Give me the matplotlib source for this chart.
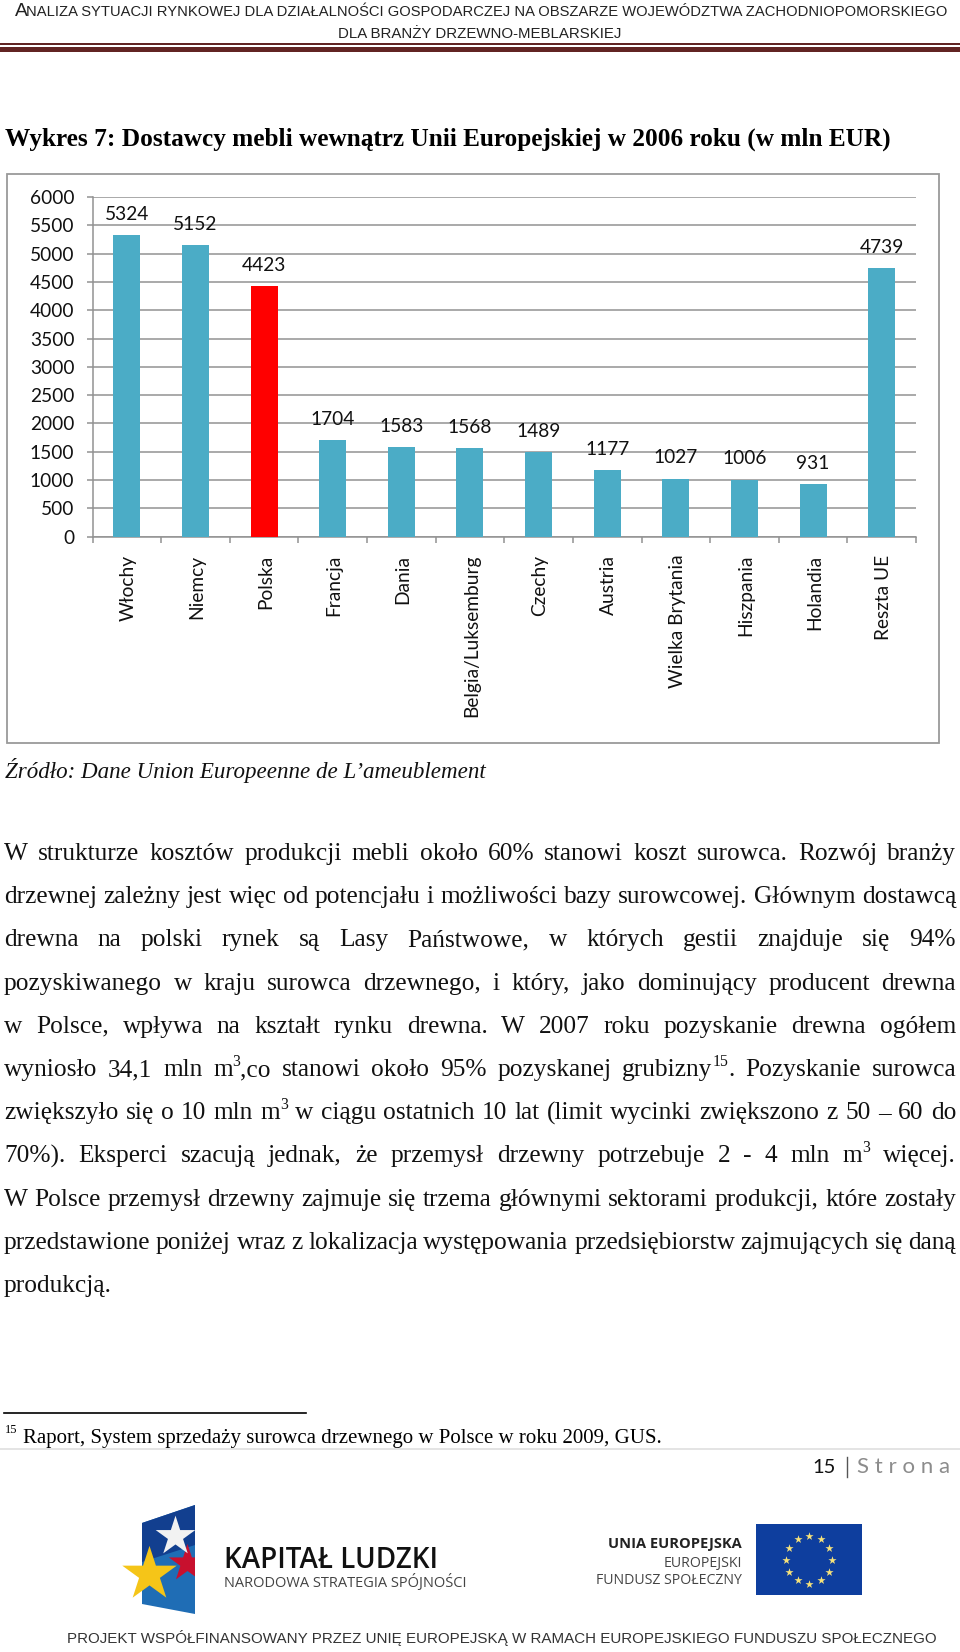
import numpy as np
import matplotlib
matplotlib.use("Agg")
import matplotlib.pyplot as plt
from matplotlib.patches import Polygon, Rectangle

categories = ["Włochy", "Niemcy", "Polska", "Francja", "Dania", "Belgia/Luksemburg", "Czechy",
              "Austria", "Wielka Brytania", "Hiszpania", "Holandia", "Reszta UE"]
values = [5324, 5152, 4423, 1704, 1583, 1568, 1489, 1177, 1027, 1006, 931, 4739]
bar_colors = ["#4BACC6", "#4BACC6", "#FF0000"] + ["#4BACC6"] * 9
yticks = list(range(0, 6001, 500))

header_2 = "DLA BRANŻY DRZEWNO-MEBLARSKIEJ"
title = "Wykres 7: Dostawcy mebli wewnątrz Unii Europejskiej w 2006 roku (w mln EUR)"
source = "Źródło: Dane Union Europeenne de L’ameublement"
body = [
    "W strukturze kosztów produkcji mebli około 60% stanowi koszt surowca. Rozwój branży",
    "drzewnej zależny jest więc od potencjału i możliwości bazy surowcowej. Głównym dostawcą",
    "drewna na polski rynek są Lasy Państwowe, w których gestii znajduje się 94%",
    "pozyskiwanego w kraju surowca drzewnego, i który, jako dominujący producent drewna",
    "w Polsce, wpływa na kształt rynku drewna. W 2007 roku pozyskanie drewna ogółem",
    "wyniosło 34,1 mln m^3^,co stanowi około 95% pozyskanej grubizny^15^. Pozyskanie surowca",
    "zwiększyło się o 10 mln m^3^ w ciągu ostatnich 10 lat (limit wycinki zwiększono z 50 – 60 do",
    "70%). Eksperci szacują jednak, że przemysł drzewny potrzebuje 2 - 4 mln m^3^ więcej.",
    "W Polsce przemysł drzewny zajmuje się trzema głównymi sektorami produkcji, które zostały",
    "przedstawione poniżej wraz z lokalizacja występowania przedsiębiorstw zajmujących się daną",
    "produkcją.",
]
footnote = "Raport, System sprzedaży surowca drzewnego w Polsce w roku 2009, GUS."

W, H = 960, 1652
fig = plt.figure(figsize=(W / 100, H / 100), dpi=100, facecolor="white")
pg = fig.add_axes([0, 0, 1, 1])
pg.set_xlim(0, W)
pg.set_ylim(H, 0)
pg.axis("off")
renderer = fig.canvas.get_renderer()
SERIF, SANS, CHART = "Liberation Serif", "Liberation Sans", "Lato"


def width(s, **kw):
    t = pg.text(0, 0, s, **kw)
    w = t.get_window_extent(renderer).width
    t.remove()
    return w


def fit(s, x0, x1, y, **kw):
    """Place text so that it spans x0..x1 by choosing its font size."""
    base = 14
    w = width(s, fontsize=base, **kw)
    return pg.text(x0, y, s, fontsize=base * (x1 - x0) / w, va="baseline", **kw)


# ---------- header ----------
hs = 11.35
pg.text(15, 16, "A", family=SANS, fontsize=hs * 1.22, color="#222222", va="baseline")
fit("NALIZA SYTUACJI RYNKOWEJ DLA DZIAŁALNOŚCI GOSPODARCZEJ NA OBSZARZE WOJEWÓDZTWA ZACHODNIOPOMORSKIEGO",
    26, 945, 16, family=SANS, color="#222222")
pg.text(480, 37.5, header_2, family=SANS, fontsize=10.8, color="#222222", ha="center", va="baseline")
pg.add_patch(Rectangle((0, 43), W, 1.6, fc="#622423", ec="none"))
pg.add_patch(Rectangle((0, 46.5), W, 5.5, fc="#622423", ec="none"))

fit(title, 5, 893, 146, family=SERIF, weight="bold", color="black")

# ---------- chart ----------
pg.add_patch(Rectangle((7, 174), 932, 569, fc="white", ec="#9A9A9A", lw=1.3))
ax = fig.add_axes([92.5 / W, 1 - 536.7 / H, 823.5 / W, (536.7 - 197) / H])
x = np.arange(len(categories))
bars = ax.bar(x, values, width=27 / 68.6, color=bar_colors, zorder=3)
ax.set_xlim(-0.5, len(categories) - 0.5)
ax.set_ylim(0, 6000)
ax.set_yticks(yticks)
ax.set_yticklabels([str(v) for v in yticks], family=CHART, fontsize=13.8, color="#111111")
ax.set_xticks(np.arange(len(categories) + 1) - 0.5, minor=False)
ax.set_xticklabels([""] * (len(categories) + 1))
ax.grid(axis="y", color="#929292", lw=1.1, zorder=0)
ax.set_axisbelow(True)
for s in ("top", "right"):
    ax.spines[s].set_visible(False)
for s in ("left", "bottom"):
    ax.spines[s].set_color("#929292")
    ax.spines[s].set_linewidth(1.1)
ax.tick_params(axis="both", color="#929292", width=1.1, length=4.5, pad=8.5)
for xi, v, cat in zip(x, values, categories):
    ax.annotate(str(v), (xi, v), xytext=(0, 15), textcoords="offset points", ha="center", va="center",
                family=CHART, fontsize=13.8, color="#111111")
    ax.annotate(cat, (xi, 0), xytext=(1, -13), textcoords="offset points", ha="center", va="top",
                rotation=90, family=CHART, fontsize=13.8, color="#111111", annotation_clip=False)

fit(source, 5, 488, 778, family=SERIF, style="italic", color="#111111")

# ---------- justified body ----------
FS = 18.3
L, R = 4, 956
SUP_SCALE = 0.62


def word_runs(word):
    parts = word.split("^")
    return [(p, i % 2 == 1) for i, p in enumerate(parts) if p]


def run_w(text, sup):
    return width(text, family=SERIF, fontsize=FS * SUP_SCALE if sup else FS)


for i, line in enumerate(body):
    y = 860 + i * 43.2
    words = [word_runs(w) for w in line.split(" ")]
    ws = [sum(run_w(t, s) for t, s in w) for w in words]
    last = i == len(body) - 1
    gap = 5 if last else (R - L - sum(ws)) / (len(words) - 1)
    cx = L
    for w, wd in zip(words, ws):
        rx = cx
        for t, s in w:
            pg.text(rx, y - 10 if s else y, t, family=SERIF, fontsize=FS * SUP_SCALE if s else FS,
                    va="baseline", color="#111111")
            rx += run_w(t, s)
        cx += wd + gap

# ---------- footnote & page number ----------
pg.plot([4, 306], [1413, 1413], color="black", lw=1.2)
pg.text(5, 1433, "15", family=SERIF, fontsize=9, va="baseline")
fit(footnote, 23, 663, 1443, family=SERIF, color="black")
pg.add_patch(Rectangle((0, 1448), W, 2, fc="#E4E4E4", ec="none"))
pg.text(812, 1473, "15", family=CHART, fontsize=14.5, va="baseline", color="#111111")
pg.plot([846.5, 846.5], [1457, 1477], color="#555555", lw=1)
fit("S t r o n a", 857, 950, 1473, family=CHART, color="#8C8C8C")

# ---------- logos ----------
pg.add_patch(Polygon([(142, 1523), (195, 1505), (195, 1614), (142, 1604)], fc="#1F6DB5", ec="none"))
pg.add_patch(Polygon([(142, 1523), (195, 1505), (195, 1545), (142, 1562)], fc="#123F8F", ec="none"))
pg.scatter([149], [1574], marker="*", s=1700, c="#F5C518", linewidths=0, zorder=4)
pg.scatter([187], [1563], marker="*", s=800, c="#C8102E", linewidths=0, zorder=4)
pg.add_patch(Rectangle((195, 1540), 12, 50, fc="white", ec="none", zorder=4.5))
pg.scatter([175], [1536], marker="*", s=900, c="#F2F2F2", linewidths=0, zorder=5)
fit("KAPITAŁ LUDZKI", 224, 438, 1568, family="Open Sans", weight="semibold", color="#111111")
fit("NARODOWA STRATEGIA SPÓJNOŚCI", 224, 469, 1587, family="Open Sans", color="#444444")
pg.text(742, 1548, "UNIA EUROPEJSKA", family="Open Sans", weight="bold", fontsize=10.5, ha="right", va="baseline", color="#222222")
pg.text(742, 1567, "EUROPEJSKI", family="Open Sans", fontsize=10.2, ha="right", va="baseline", color="#444444")
pg.text(742, 1584, "FUNDUSZ SPOŁECZNY", family="Open Sans", fontsize=10.2, ha="right", va="baseline", color="#444444")
pg.add_patch(Rectangle((756, 1524), 106, 71, fc="#0E3E9E", ec="none"))
ang = np.deg2rad(np.arange(0, 360, 30))
pg.scatter(809 + 23 * np.cos(ang), 1559.5 + 24 * np.sin(ang), marker="*", s=38, c="#F6E27A", linewidths=0, zorder=4)
fit("PROJEKT WSPÓŁFINANSOWANY PRZEZ UNIĘ EUROPEJSKĄ W RAMACH EUROPEJSKIEGO FUNDUSZU SPOŁECZNEGO",
    67, 935, 1643, family=SANS, color="#333333")

fig.savefig("out.png", dpi=100, facecolor="white")
